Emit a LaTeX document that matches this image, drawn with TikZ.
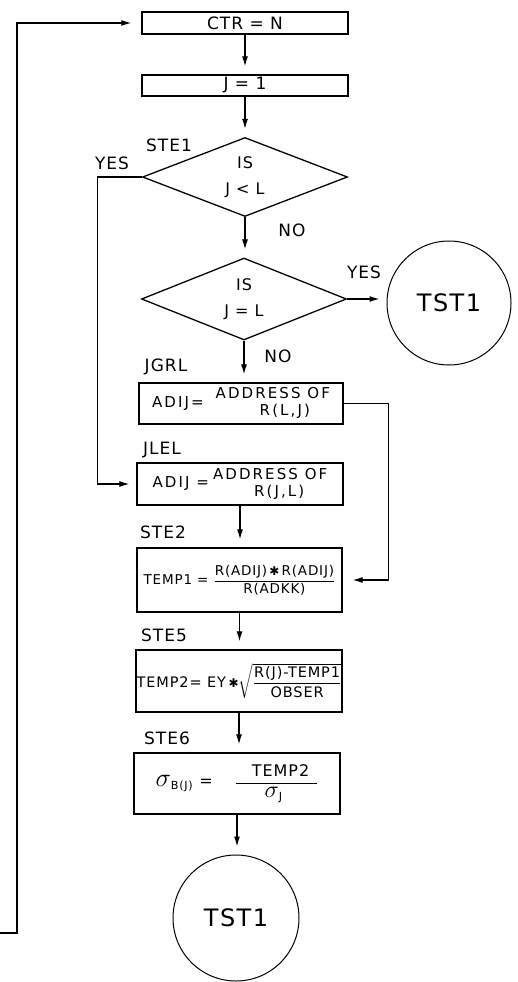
\RequirePackage{fix-cm}
\documentclass[tikz,border=0pt]{standalone}
\usepackage{amsmath}
\usepackage{fontspec}
\setmainfont{DejaVu Sans}[LetterSpace=6]
\usetikzlibrary{shapes.geometric,arrows.meta}
\newcommand{\bigsig}[1]{\mbox{\fontsize{#1}{#1}\selectfont$\sigma$}}
\newcommand{\hstar}{{\fontsize{12}{12}\selectfont ✱}}
\tikzset{
  box/.style={draw, line width=1.3pt, rectangle, inner sep=0pt, align=center,
    font=\fontsize{15}{18}\selectfont},
  wide/.style={font=\fontsize{15}{18}\selectfont\addfontfeature{LetterSpace=14}},
  dec/.style={draw, line width=1.3pt, diamond, aspect=2.6, inner sep=0pt, align=center,
    font=\fontsize{16}{26}\selectfont},
  term/.style={draw, circle, line width=1pt, inner sep=0pt, font=\fontsize{24}{26}\selectfont},
  lbl/.style={inner sep=0pt, font=\fontsize{17}{19}\selectfont},
  arr/.style={-{Latex[length=10pt,width=6pt]}, line width=1.2pt, shorten >=8pt}
}
\begin{document}
\begin{tikzpicture}[x=1pt,y=-1pt]
\path[fill=white] (0,0) rectangle (517,982);
\useasboundingbox (0,0) rectangle (517,982);

% nodes
\node[box, minimum width=206pt, minimum height=22pt, font=\fontsize{17}{19}\selectfont] (ctr) at (245,23) {CTR = N};
\node[box, minimum width=206pt, minimum height=21pt, font=\fontsize{17}{19}\selectfont] (j1) at (245,85.5) {J = 1};
\node[dec, minimum width=205pt, minimum height=79pt] (d1) at (245,177) {IS\\J < L};
\node[dec, minimum width=205pt, minimum height=82pt] (d2) at (244,299) {IS\\J = L};
\node[term, minimum size=124pt] (tsta) at (449,303) {TST1};
\node[box, wide, minimum width=204pt, minimum height=41pt] (jgrl) at (241,403.5)
  {ADIJ=\hspace{12pt}\begin{tabular}{@{}c@{}}ADDRESS OF\\[-1pt]\hspace{1.6em}R(L,J)\end{tabular}};
\node[box, wide, minimum width=206pt, minimum height=42pt] (jlel) at (240,484)
  {ADIJ =\hspace{4pt}\begin{tabular}{@{}c@{}}ADDRESS OF\\[-1pt]\hspace{1.2em}R(J,L)\end{tabular}};
\node[box, minimum width=205pt, minimum height=64pt, font=\fontsize{13.5}{16}\selectfont] (ste2) at (239.5,580)
  {TEMP1 = $\dfrac{\text{R(ADIJ)\,\hstar\,R(ADIJ)}}{\text{R(ADKK)}}$};
\node[box, minimum width=206pt, minimum height=62pt, font=\fontsize{14.5}{17}\selectfont] (ste5) at (239,681)
  {TEMP2= EY\,\hstar$\sqrt{\dfrac{\text{R(J)-TEMP1}}{\text{OBSER}}}$};
\node[box, minimum width=206pt, minimum height=61pt, font=\fontsize{16}{18}\selectfont] (ste6) at (237,783.5)
  {${\bigsig{26}}_{\text{B(J)}}$ =\hspace{22pt}$\dfrac{\hspace{16pt}\text{TEMP2}\hspace{8pt}}{{\bigsig{24}}_{\text{J}}\hspace{6pt}}$};
\node[term, minimum size=126pt] (tstb) at (236,918) {TST1};

% labels
\node[lbl] (lste1) at (169,145) {STE1};
\node[lbl] (lyes1) at (112,163) {YES};
\node[lbl] (lno1) at (292,230) {NO};
\node[lbl] (lyes2) at (364,272) {YES};
\node[lbl] (lno2) at (278,356) {NO};
\node[lbl] (ljgrl) at (166,367) {JGRL};
\node[lbl] (ljlel) at (162,450) {JLEL};
\node[lbl] (lste2) at (163,532) {STE2};
\node[lbl] (lste5) at (164,635) {STE5};
\node[lbl] (lste6) at (167,738) {STE6};

% connectors
\coordinate (loopin) at (0,933);
\coordinate (loopcorner) at (17,933);
\draw[arr, shorten >=10pt] (loopin) -- (loopcorner) |- (ctr.west);
\draw[arr] (ctr.south) -- (ctr.south |- j1.north);
\draw[arr] (j1.south) -- (j1.south |- d1.north);
\draw[arr] (d1.south) -- (d1.south |- d2.north);
\draw[arr, shorten >=7pt] (d2.east) -- (d2.east -| tsta.west);
\draw[arr] (d2.south) -- (d2.south |- jgrl.north);
\draw[arr, shorten >=7pt] (d1.west) -- ++(-44,0) |- (jlel.west);
\draw[arr, shorten >=10pt] (jgrl.east) -- ++(45,0) |- (ste2.east);
\draw[arr] (jlel.south) -- (jlel.south |- ste2.north);
\draw[arr] (ste2.south) -- (ste2.south |- ste5.north);
\draw[arr] (ste5.south) -- (ste5.south |- ste6.north);
\draw[arr] (ste6.south) -- (ste6.south |- tstb.north);
\end{tikzpicture}
\end{document}
